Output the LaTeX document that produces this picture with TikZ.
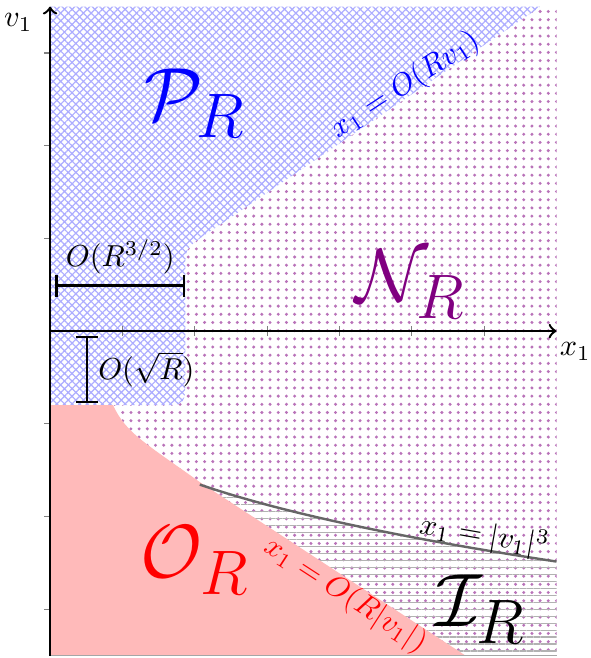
\documentclass[tikz,border=0pt]{standalone}
\usepackage{amsmath}
\usepackage{amsfonts}
\usepackage{amssymb}
\usepackage{tikz}
\usetikzlibrary{patterns,patterns.meta}

\begin{document}
\begin{tikzpicture}[x=0.839cm,y=1.075cm,
		region/.style={font=\Huge},
		bound/.style={font=\normalsize}]
			\useasboundingbox (-0.692,-3.527) rectangle (7.469,3.571);
			% regions
			\fill[pattern={Dots[distance=2.7pt,radius=0.55pt]},pattern color=violet!55] (0,-3.5) rectangle (7,3.5);
			\fill[pattern={Lines[angle=0,distance=2.3pt,line width=0.4pt]},pattern color=gray!60]
				plot[domain=2.07:7,samples=40] (\x,{-1.3*(\x)^(1/3)}) -- (7,-3.5) -- (5.74,-3.5) -- cycle;
			\fill[preaction={fill=white},pattern={Hatch[angle=45,distance=1.77pt,line width=0.4pt]},pattern color=blue!32]
				(0,3.5) -- (6.78,3.5) -- (2.3,1.12) .. controls (1.87,0.9) .. (1.87,0.7)
				-- (1.87,-0.47) .. controls (1.87,-0.8) .. (1.55,-0.8) -- (0,-0.8) -- cycle;
			\fill[red!27] (0,-0.8) -- (0.87,-0.8) .. controls (1.05,-1.1) and (1.3,-1.2) .. (2.07,-1.63)
				-- (5.74,-3.5) -- (0,-3.5) -- cycle;
			\draw[black!60,thick] plot[domain=2.07:7,samples=40] (\x,{-1.3*(\x)^(1/3)});
			\draw[gray!70] (0,-3.5) -- (7,-3.5);
			% ticks
			\foreach \i in {1,...,6}
				\draw[gray] (\i,-0.05) -- (\i,0.05);
			\foreach \j in {-3,-2,-1,1,2,3}
				\draw[gray] (-0.08,\j) -- (0,\j);
			% axes
			\draw[->,thick] (0,-3.5) -- (0,3.5);
			\draw[->,thick] (0,0) -- (7,0);
			\node (v1) at (-0.44,3.33) {$v_1$};
			\node (x1) at (7.26,-0.22) {$x_1$};
			% sizes
			\coordinate (ha) at (0.07,0.49);
			\coordinate (hb) at (1.87,0.49);
			\draw[|-|,thick] (ha) -- (hb) node[midway,above] (hlab) {$O(R^{3/2})$};
			\coordinate (va) at (0.51,-0.05);
			\coordinate (vb) at (0.51,-0.78);
			\draw[|-|,thick] (va) -- (vb) node[midway,right] (vlab) {$O(\sqrt{R})$};
			% labels
			\node[region,blue] (pr) at (2.0,2.46) {$\mathcal{P}_R$};
			\node[region,violet] (nr) at (4.98,0.5) {$\mathcal{N}_R$};
			\node[region,red] (or) at (2.0,-2.47) {$\mathcal{O}_R$};
			\node[region] (ir) at (5.95,-3.0) {$\mathcal{I}_R$};
			\node[bound,blue,rotate=33] (prb) at (4.91,2.65) {$x_1 = O(Rv_1)$};
			\node[bound,red,rotate=-33] (orb) at (4.08,-2.85) {$x_1 = O(R|v_1|)$};
			\node[bound,rotate=-10] (irb) at (6.0,-2.21) {$x_1 = |v_1|^3$};
		\end{tikzpicture}
\end{document}
